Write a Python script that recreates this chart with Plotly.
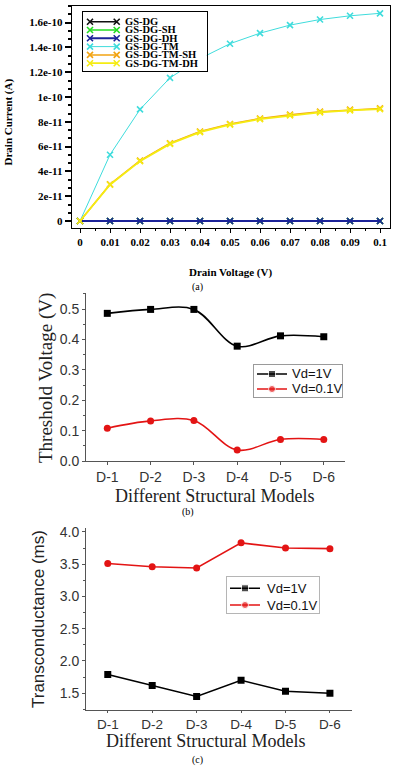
import plotly.graph_objects as go

W, H = 394, 767

# ---------------- data ----------------
drain_voltage = [0, 0.01, 0.02, 0.03, 0.04, 0.05, 0.06, 0.07, 0.08, 0.09, 0.1]
series_names = ["GS-DG", "GS-DG-SH", "GS-DG-DH", "GS-DG-TM", "GS-DG-TM-SH", "GS-DG-TM-DH"]
id_gs_dg = [0, 0, 0, 0, 0, 0, 0, 0, 0, 0, 0]
id_gs_dg_sh = [0, 0, 0, 0, 0, 0, 0, 0, 0, 0, 0]
id_gs_dg_dh = [0, 0, 0, 0, 0, 0, 0, 0, 0, 0, 0]
id_gs_dg_tm = [0, 5.35e-11, 9.0e-11, 1.155e-10, 1.31e-10, 1.43e-10, 1.515e-10, 1.58e-10, 1.625e-10, 1.655e-10, 1.675e-10]
id_gs_dg_tm_sh = [0, 2.97e-11, 4.87e-11, 6.27e-11, 7.22e-11, 7.83e-11, 8.27e-11, 8.58e-11, 8.82e-11, 8.98e-11, 9.08e-11]
id_gs_dg_tm_dh = [0, 2.93e-11, 4.83e-11, 6.22e-11, 7.17e-11, 7.78e-11, 8.22e-11, 8.52e-11, 8.76e-11, 8.92e-11, 9.02e-11]
series_colors = ["#111111", "#22dd22", "#1c2399", "#3fdcdc", "#f2a312", "#f5ec12"]
series_widths = [1.5, 1.5, 2.0, 1.0, 1.5, 1.8]

y_ticks_a = [0, 2e-11, 4e-11, 6e-11, 8e-11, 1e-10, 1.2e-10, 1.4e-10, 1.6e-10]
y_ticktext_a = ["0", "2e-11", "4e-11", "6e-11", "8e-11", "1e-10", "1.2e-10", "1.4e-10", "1.6e-10"]

models = ["D-1", "D-2", "D-3", "D-4", "D-5", "D-6"]
vth_vd1 = [0.486, 0.499, 0.499, 0.378, 0.412, 0.409]
vth_vd01 = [0.108, 0.132, 0.133, 0.036, 0.071, 0.071]

gm_vd1 = [1.79, 1.62, 1.45, 1.70, 1.53, 1.50]
gm_vd01 = [3.51, 3.46, 3.44, 3.83, 3.75, 3.74]

vd_names = ["Vd=1V", "Vd=0.1V"]
RED = "#e31414"

def px(x):
    return x / W

def py(y):
    return 1 - y / H

SERIF = "Liberation Serif"
SANS = "Liberation Sans"

fig = go.Figure()

# ---------------- panel (a) ----------------
ys_a = [id_gs_dg, id_gs_dg_sh, id_gs_dg_dh, id_gs_dg_tm, id_gs_dg_tm_sh, id_gs_dg_tm_dh]
for name, ys, c, w in zip(series_names, ys_a, series_colors, series_widths):
    fig.add_trace(go.Scatter(
        x=drain_voltage, y=ys, name=name, mode="lines+markers",
        line=dict(color=c, width=w),
        marker=dict(symbol="x-thin-open", size=6, line=dict(color=c, width=1.6)),
        xaxis="x", yaxis="y", showlegend=False))

# ---------------- panel (b) ----------------
for name, ys, c, sym in [(vd_names[0], vth_vd1, "#000000", "square"), (vd_names[1], vth_vd01, RED, "circle")]:
    fig.add_trace(go.Scatter(
        x=list(range(len(models))), y=ys, name=name, mode="lines+markers",
        line=dict(color=c, width=1.6, shape="spline", smoothing=1.0),
        marker=dict(symbol=sym, size=7, color=c),
        xaxis="x2", yaxis="y2", showlegend=False))

# ---------------- panel (c) ----------------
for name, ys, c, sym in [(vd_names[0], gm_vd1, "#000000", "square"), (vd_names[1], gm_vd01, RED, "circle")]:
    fig.add_trace(go.Scatter(
        x=list(range(len(models))), y=ys, name=name, mode="lines+markers",
        line=dict(color=c, width=1.6),
        marker=dict(symbol=sym, size=7, color=c),
        xaxis="x3", yaxis="y3", showlegend=False))

# ---------------- custom legends (helper axes) ----------------
annotations = []

la = dict(x0=82.7, x1=206.7, y0=11.7, y1=71.0)
la_rows = [10.0, 18.3, 26.6, 34.9, 43.2, 51.5]
for name, c, w, yy in zip(series_names, series_colors, series_widths, la_rows):
    fig.add_trace(go.Scatter(
        x=[7.3, 34.0], y=[yy, yy], mode="lines+markers",
        line=dict(color=c, width=w),
        marker=dict(symbol="x-thin-open", size=6, line=dict(color=c, width=1.6)),
        xaxis="x4", yaxis="y4", showlegend=False, hoverinfo="skip"))
    annotations.append(dict(x=40.6, y=yy, xref="x4", yref="y4", text=name, showarrow=False,
                            xanchor="left", yanchor="middle",
                            font=dict(family=SERIF, size=10.5, color="#000", weight="bold")))

lb = dict(x0=254, x1=342, y0=365, y1=397.3)
lb_rows = [9.0, 24.0]
lc = dict(x0=227, x1=319, y0=576.7, y1=613.3)
lc_rows = [11.6, 28.3]
for (box, rows, xa, ya, tx) in [(lb, lb_rows, "x5", "y5", 36), (lc, lc_rows, "x6", "y6", 38)]:
    for name, c, sym, yy in zip(vd_names, ["#000000", RED], ["square", "circle"], rows):
        fig.add_trace(go.Scatter(
            x=[3, 18, 33], y=[yy, yy, yy], mode="lines+markers",
            line=dict(color=c, width=1.6),
            marker=dict(symbol=sym, size=[0, 7, 0], color=c),
            xaxis=xa, yaxis=ya, showlegend=False, hoverinfo="skip"))
        annotations.append(dict(x=tx, y=yy, xref=xa, yref=ya, text=name, showarrow=False,
                                xanchor="left", yanchor="middle",
                                font=dict(family=SANS, size=13, color="#111")))

def helper_axes(box, color):
    xd = [px(box["x0"]), px(box["x1"])]
    yd = [py(box["y1"]), py(box["y0"])]
    xa = dict(domain=xd, range=[0, box["x1"] - box["x0"]], showline=True, mirror=True,
              linecolor=color, linewidth=1, showgrid=False, zeroline=False,
              showticklabels=False, ticks="", fixedrange=True, automargin=False)
    ya = dict(domain=yd, range=[box["y1"] - box["y0"], 0], showline=True, mirror=True,
              linecolor=color, linewidth=1, showgrid=False, zeroline=False,
              showticklabels=False, ticks="", fixedrange=True, automargin=False)
    return xa, ya

xa4, ya4 = helper_axes(la, "#000000")
xa5, ya5 = helper_axes(lb, "#9a9a9a")
xa6, ya6 = helper_axes(lc, "#b5b5b5")
xa4["anchor"] = "y4"; ya4["anchor"] = "x4"
xa5["anchor"] = "y5"; ya5["anchor"] = "x5"
xa6["anchor"] = "y6"; ya6["anchor"] = "x6"

# ---------------- titles ----------------
def ann(x, y, text, family, size, angle=0, weight="normal", color="#111"):
    annotations.append(dict(x=px(x), y=py(y), xref="paper", yref="paper", text=text,
                            showarrow=False, xanchor="center", yanchor="middle", textangle=angle,
                            font=dict(family=family, size=size, color=color, weight=weight)))

ann(230, 272, "Drain Voltage (V)", SERIF, 11, weight="bold", color="#000")
ann(8, 122.5, "Drain Current (A)", SERIF, 11, angle=-90, weight="bold", color="#000")
ann(198, 287, "(a)", SERIF, 10, color="#000")
ann(46, 378, "Threshold Voltage (V)", SERIF, 19, angle=-90, color="#222")
ann(215, 496, "Different Structural Models", SERIF, 18, color="#222")
ann(188, 512, "(b)", SERIF, 10, color="#000")
ann(38, 619, "Transconductance (ms)", SANS, 17, angle=-90, color="#222")
ann(205.5, 740.5, "Different Structural Models", SERIF, 18, color="#222")
ann(197, 760, "(c)", SERIF, 10, color="#000")

tickfont_a = dict(family=SERIF, size=11, color="#000", weight="bold")
tickfont_bc = dict(family=SANS, size=14, color="#333")
tickfont_c = dict(family=SANS, size=13.5, color="#333")

fig.update_layout(
    width=W, height=H,
    margin=dict(l=0, r=0, t=0, b=0, autoexpand=False),
    paper_bgcolor="white", plot_bgcolor="white",
    showlegend=False,
    annotations=annotations,
    xaxis=dict(domain=[px(71.7), px(390)], range=[-0.00277, 0.10333], anchor="y", automargin=False,
               tick0=0, dtick=0.01, ticks="outside", ticklen=4, tickwidth=1.2,
               minor=dict(dtick=0.005, ticks="outside", ticklen=2, tickcolor="#000"),
               showline=True, mirror=True, linecolor="#000", linewidth=1,
               showgrid=False, zeroline=False, tickfont=tickfont_a, tickcolor="#000"),
    yaxis=dict(domain=[py(228), py(6)], range=[-5.6e-12, 1.734e-10], anchor="x", automargin=False,
               tickvals=y_ticks_a, ticktext=y_ticktext_a, ticks="outside", ticklen=6, tickwidth=1.5,
               minor=dict(tick0=0, dtick=2e-11 / 3, ticks="outside", ticklen=3, tickcolor="#000"),
               showline=True, mirror=True, linecolor="#000", linewidth=1,
               showgrid=False, zeroline=False, tickfont=tickfont_a, tickcolor="#000"),
    xaxis2=dict(domain=[px(86), px(345)], range=[-0.492, 5.49], anchor="y2", automargin=False,
                tickvals=list(range(len(models))), ticktext=models, ticks="outside", ticklen=3,
                showline=True, linecolor="#555", linewidth=1, showgrid=False, zeroline=False,
                tickfont=tickfont_bc, tickcolor="#555"),
    yaxis2=dict(domain=[py(461), py(293)], range=[0, 0.553], anchor="x2", automargin=False,
                tick0=0, dtick=0.1, tickformat=".1f", ticks="outside", ticklen=3,
                minor=dict(dtick=0.05, ticks="outside", ticklen=2, tickcolor="#555"),
                showline=True, linecolor="#555", linewidth=1, showgrid=False, zeroline=False,
                tickfont=tickfont_bc, tickcolor="#555"),
    xaxis3=dict(domain=[px(86), px(351.7)], range=[-0.49, 5.49], anchor="y3", automargin=False,
                tickvals=list(range(len(models))), ticktext=models, ticks="outside", ticklen=2,
                showline=True, linecolor="#555", linewidth=1, showgrid=False, zeroline=False,
                tickfont=tickfont_c, tickcolor="#555"),
    yaxis3=dict(domain=[py(710), py(528)], range=[1.24, 4.06], anchor="x3", automargin=False,
                tick0=0, dtick=0.5, tickformat=".1f", ticks="outside", ticklen=3,
                minor=dict(dtick=0.25, ticks="outside", ticklen=2, tickcolor="#555"),
                showline=True, linecolor="#555", linewidth=1, showgrid=False, zeroline=False,
                tickfont=tickfont_bc, tickcolor="#555"),
    xaxis4=xa4, yaxis4=ya4, xaxis5=xa5, yaxis5=ya5, xaxis6=xa6, yaxis6=ya6,
)

fig.write_html("out.html", config={"displayModeBar": False},
               post_script="document.body.style.margin='0px';document.body.style.overflow='hidden';")
